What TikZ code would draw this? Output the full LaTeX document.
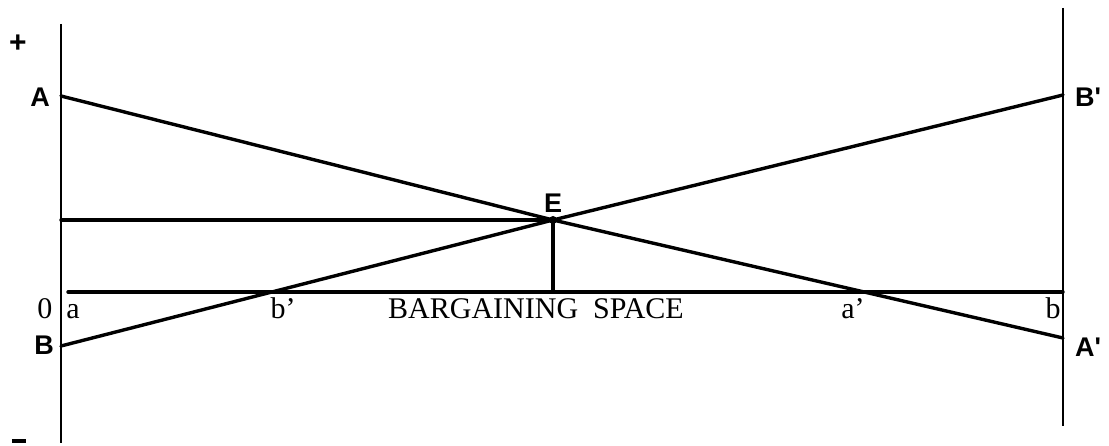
\documentclass[tikz,border=0pt]{standalone}
\usepackage{fontspec}
\setmainfont{Liberation Serif}
\newfontfamily\lsans{Liberation Sans}
\begin{document}
\begin{tikzpicture}[x=1pt,y=-1pt,
  ln/.style={line width=3.4pt,line cap=round,line join=round},
  ax/.style={line width=2.8pt},
  slab/.style={font=\lsans\bfseries\fontsize{27}{27}\selectfont,inner sep=0pt},
  rlab/.style={font=\fontsize{30}{30}\selectfont,inner sep=0pt,anchor=base}]
\useasboundingbox (0,0) rectangle (1109,446);
% axes
\coordinate (LT) at (61,24);
\coordinate (LB) at (61,443);
\coordinate (RT) at (1063,8);
\coordinate (RB) at (1063,426);
\draw[ax] (LT) -- (LB);
\draw[ax] (RT) -- (RB);
% key points
\coordinate (A) at (61,96);
\coordinate (B) at (61,346);
\coordinate (Bp) at (1063,95);
\coordinate (Ap) at (1063,338);
\coordinate (E) at (553,220);
\coordinate (H0) at (61,220);
\coordinate (Ebase) at (553,292);
\coordinate (S0) at (68,292);
\coordinate (S1) at (1063,292);
% lines
\draw[ln] (A) -- (E) -- (Ap);
\draw[ln] (B) -- (E) -- (Bp);
\draw[ln] (H0) -- (E);
\draw[ln] (E) -- (Ebase);
\draw[ln] (S0) -- (S1);
\fill (E) circle (4pt);
% labels
\node[slab,font=\lsans\bfseries\fontsize{30}{30}\selectfont] (plus) at (18,44) {+};
\node[inner sep=0pt] (minus) at (19,441) {\rule{14pt}{3.5pt}};
\node[slab] (lA) at (40,97) {A};
\node[slab] (lB) at (44,345) {B};
\node[slab] (lBp) at (1088,97) {B'};
\node[slab] (lAp) at (1088,347) {A'};
\node[slab] (lE) at (553,203) {E};
\node[rlab] (l0) at (45,319) {0};
\node[rlab] (la) at (73,319) {a};
\node[rlab] (lbp) at (283,319) {b'};
\node[rlab] (lbs) at (536,319) {BARGAINING\ \ SPACE};
\node[rlab] (lap) at (853,319) {a'};
\node[rlab] (lb) at (1053,319) {b};
\end{tikzpicture}
\end{document}
